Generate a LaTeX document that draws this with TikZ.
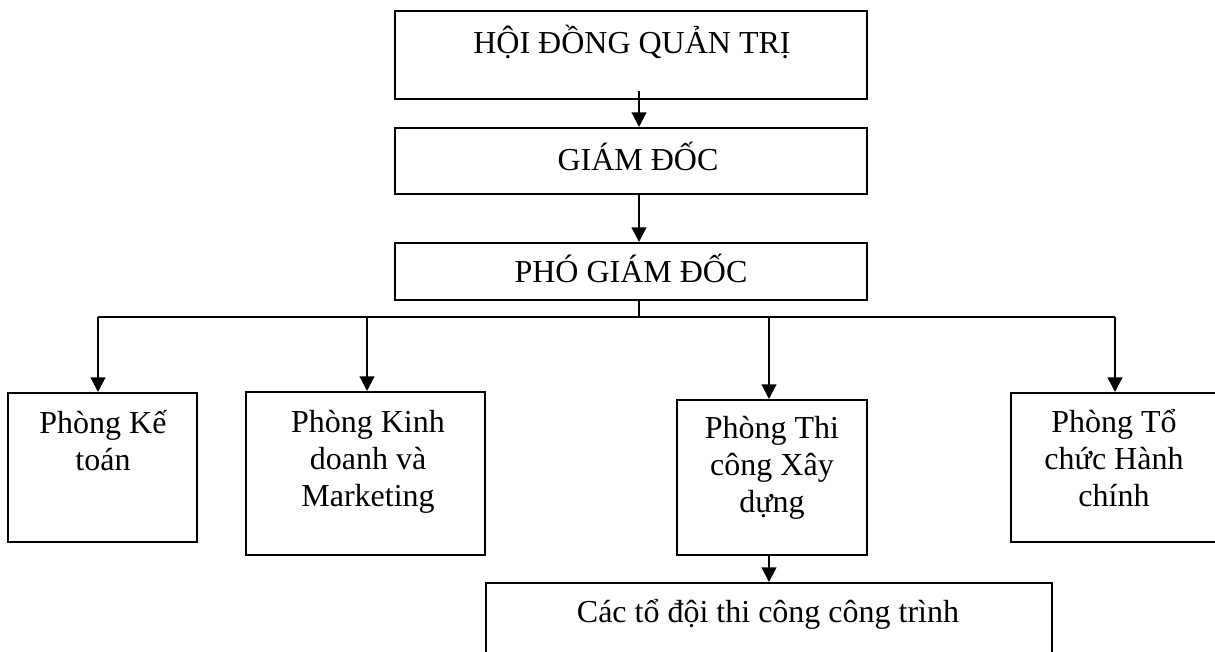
\documentclass[tikz,border=0pt]{standalone}
\usepackage{fontspec}
\setmainfont{Liberation Serif}
\usetikzlibrary{arrows.meta}
\begin{document}
\begin{tikzpicture}[x=0.75pt,y=-0.75pt,
  box/.style={draw,line width=1.5pt,rectangle,inner sep=0pt},
  lbl/.style={font=\fontsize{24}{27.75}\selectfont,inner sep=0pt,anchor=base},
  mlbl/.style={lbl,text width=170pt,align=flush center},
  conn/.style={line width=1.6pt,-{Triangle[width=11pt,length=11pt]}},
  bus/.style={line width=1.1pt}]
\clip (0,0) rectangle (1215,651);
% boxes
\node[box,minimum width=354pt,minimum height=66pt] (hdqt) at (631,55) {};
\node[box,minimum width=354pt,minimum height=49.5pt] (gd) at (631,161) {};
\node[box,minimum width=354pt,minimum height=42.75pt] (pgd) at (631,271.5) {};
\node[box,minimum width=141.75pt,minimum height=111.75pt] (kt) at (102.5,467.5) {};
\node[box,minimum width=179.25pt,minimum height=122.25pt] (kd) at (365.5,473.5) {};
\node[box,minimum width=142.5pt,minimum height=116.25pt] (tc) at (772,477.5) {};
\node[box,minimum width=168pt,minimum height=111.75pt] (tchc) at (1123,467.5) {};
\node[box,minimum width=424.5pt,minimum height=72.75pt] (cac) at (769,631.5) {};
% texts
\node[lbl] (thdqt) at (632,53) {HỘI ĐỒNG QUẢN TRỊ};
\node[lbl] (tgd) at (638,170) {GIÁM ĐỐC};
\node[lbl] (tpgd) at (631,282) {PHÓ GIÁM ĐỐC};
\node[mlbl] (tkt) at (103,433) {Phòng Kế\\toán};
\node[mlbl] (tkd) at (368,432) {Phòng Kinh\\doanh và\\Marketing};
\node[mlbl] (ttc) at (772,438) {Phòng Thi\\công Xây\\dựng};
\node[mlbl] (ttchc) at (1114,432) {Phòng Tổ\\chức Hành\\chính};
\node[lbl] (tcac) at (768,622) {Các tổ đội thi công công trình};
% bus coordinates
\coordinate (bc) at (639,317);
\coordinate (b1) at (98,317);
\coordinate (b2) at (367,317);
\coordinate (b3) at (769,317);
\coordinate (b4) at (1115,317);
% connectors
\draw[conn] ([yshift=6.75pt]hdqt.south -| bc) -- (gd.north -| bc);
\draw[conn] (gd.south -| bc) -- (pgd.north -| bc);
\draw[bus] (pgd.south -| bc) -- (bc);
\draw[bus] (b1) -- (b4);
\draw[conn] (b1) -- (kt.north -| b1);
\draw[conn] (b2) -- (kd.north -| b2);
\draw[conn] (b3) -- (tc.north -| b3);
\draw[conn] (b4) -- (tchc.north -| b4);
\draw[conn] (tc.south -| b3) -- (cac.north -| b3);
\end{tikzpicture}
\end{document}
